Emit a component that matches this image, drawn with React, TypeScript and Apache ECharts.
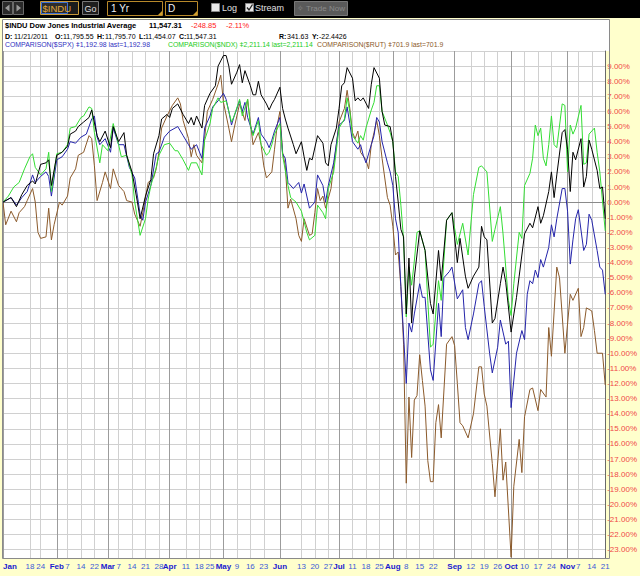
import React, { useEffect, useRef } from 'react';
import * as echarts from 'echarts';

// market holidays in the period (no trading days)
const holidays = ['2011-01-17', '2011-02-21', '2011-04-22', '2011-05-30', '2011-07-04', '2011-09-05'];
const firstDay = '2011-01-03';
const lastDay = '2011-11-21';

// labelled dates on the x axis (month starts get the month name)
const monthStarts = ['2011-01-03', '2011-02-01', '2011-03-01', '2011-04-01', '2011-05-02', '2011-06-01',
    '2011-07-01', '2011-08-01', '2011-09-01', '2011-10-03', '2011-11-01'];
const weekTicks = ['2011-01-18', '2011-01-24', '2011-02-07', '2011-02-14', '2011-02-22', '2011-03-07',
    '2011-03-14', '2011-03-21', '2011-03-28', '2011-04-11', '2011-04-18', '2011-04-25', '2011-05-09',
    '2011-05-16', '2011-05-23', '2011-06-13', '2011-06-20', '2011-06-27', '2011-07-11', '2011-07-18',
    '2011-07-25', '2011-08-08', '2011-08-15', '2011-08-22', '2011-09-12', '2011-09-19', '2011-09-26',
    '2011-10-10', '2011-10-17', '2011-10-24', '2011-11-07', '2011-11-14', '2011-11-21'];
const monthNames = ['Jan', 'Feb', 'Mar', 'Apr', 'May', 'Jun', 'Jul', 'Aug', 'Sep', 'Oct', 'Nov', 'Dec'];

// % change since first day, [trading day index, value]
const induPct = [[0,0],[3,0.3],[5,-0.3],[7,0.5],[9,1.1],[11,1.4],[12,1.2],[14,2.5],[16,2.6],[17,2.8],[18,1.1],[20,3.1],[22,3.3],[24,3.7],[25,4.5],[27,4.7],[28,5.0],[30,5.3],[32,5.6],[33,6.1],[35,4.4],[36,4.0],[38,4.7],[40,3.6],[41,5.0],[43,4.0],[45,4.6],[46,3.1],[48,2.0],[50,0.0],[51,-1.1],[53,0.4],[55,1.5],[56,3.2],[58,4.4],[59,5.5],[61,5.8],[62,5.6],[63,6.2],[65,6.5],[67,5.8],[69,5.2],[70,5.6],[71,5.1],[72,5.7],[74,4.9],[75,6.4],[77,7.2],[79,7.7],[80,9.0],[82,9.7],[83,9.7],[84,9.0],[85,7.8],[87,8.6],[88,9.1],[89,7.9],[90,8.7],[92,7.7],[93,7.1],[94,7.1],[95,8.0],[96,7.1],[98,6.5],[99,6.1],[100,6.5],[101,6.8],[103,7.6],[104,6.2],[105,5.5],[106,4.9],[108,3.8],[109,3.2],[111,4.0],[112,3.0],[113,2.1],[114,2.9],[115,2.8],[117,4.4],[119,3.9],[120,2.6],[121,2.4],[122,3.8],[124,4.9],[125,6.2],[126,7.7],[127,7.9],[128,8.9],[130,8.2],[131,6.7],[132,6.9],[133,6.7],[134,6.9],[136,6.2],[137,7.8],[138,8.9],[140,8.2],[141,6.0],[142,5.1],[144,5.0],[145,4.0],[146,1.7],[147,0.0],[148,-1.8],[149,-2.3],[150,-7.4],[151,-3.7],[152,-8.0],[153,-5.0],[155,-1.9],[157,-3.2],[159,-6.7],[160,-7.4],[162,-3.2],[163,-5.2],[165,-1.2],[167,-0.7],[169,-4.0],[170,-2.4],[172,-4.9],[173,-5.7],[175,-4.9],[177,-4.3],[178,-1.6],[179,-2.3],[180,-2.5],[182,-8.0],[183,-7.7],[185,-5.4],[186,-4.3],[187,-5.3],[189,-8.6],[191,-6.3],[192,-4.9],[194,-2.1],[196,-1.4],[197,-1.7],[199,-0.3],[200,-1.4],[201,-0.9],[203,0.7],[204,2.0],[205,0.3],[206,1.8],[208,4.6],[209,4.8],[210,3.5],[211,0.7],[212,3.3],[213,2.8],[215,4.2],[216,1.0],[217,1.7],[218,4.1],[219,3.5],[221,2.1],[222,0.9],[223,1.0],[224,-1.1]];

const spxPct = [[0,0],[3,0.3],[5,-0.2],[7,0.3],[9,0.7],[11,1.8],[12,1.3],[14,1.7],[16,2.0],[17,1.7],[18,0.4],[20,2.8],[22,3.0],[24,3.5],[25,4.0],[27,3.9],[29,4.3],[31,4.5],[33,5.5],[34,5.7],[35,4.3],[36,3.8],[38,4.2],[40,3.3],[41,4.9],[43,3.8],[45,3.8],[47,2.3],[49,1.6],[51,-0.8],[52,-1.2],[53,0.0],[55,1.1],[57,3.2],[58,3.3],[60,4.3],[62,4.7],[64,4.9],[65,5.0],[67,4.4],[69,3.8],[70,3.5],[72,3.8],[74,2.9],[75,4.9],[77,5.7],[78,6.3],[80,6.7],[82,7.2],[83,6.8],[84,6.0],[85,5.1],[86,5.7],[88,6.7],[89,6.0],[90,6.6],[91,5.6],[93,4.5],[95,5.6],[96,4.5],[98,4.0],[99,3.6],[100,4.1],[101,4.7],[103,5.6],[104,3.2],[105,2.9],[106,1.3],[108,0.9],[110,1.3],[111,0.6],[112,1.2],[114,-0.4],[116,0.0],[117,1.8],[119,1.1],[120,0.0],[121,1.1],[123,2.6],[125,5.1],[127,5.4],[128,6.3],[129,5.2],[130,4.0],[132,3.5],[133,3.8],[134,3.1],[135,2.6],[137,3.8],[138,4.4],[139,5.6],[140,5.3],[141,4.0],[143,2.6],[144,2.0],[145,1.1],[146,-1.1],[147,-2.0],[148,-5.6],[150,-12.0],[151,-8.0],[152,-8.6],[153,-7.4],[155,-5.4],[156,-6.3],[157,-6.3],[159,-11.1],[160,-11.8],[162,-6.7],[163,-8.9],[164,-5.0],[166,-4.6],[167,-4.3],[169,-6.4],[171,-5.8],[172,-8.3],[173,-9.1],[175,-7.4],[177,-5.4],[178,-5.2],[179,-6.9],[181,-10.0],[182,-11.3],[184,-9.6],[185,-7.8],[187,-9.4],[188,-9.2],[189,-13.6],[191,-10.0],[193,-8.5],[194,-9.1],[195,-6.1],[196,-5.2],[197,-5.4],[198,-4.5],[199,-5.0],[200,-3.8],[201,-4.3],[203,-3.0],[204,-1.5],[205,-2.3],[206,-1.1],[208,0.9],[209,0.9],[210,-0.6],[211,-4.1],[212,-2.5],[213,-1.1],[214,-0.5],[216,-3.2],[217,-2.8],[218,-0.8],[219,-1.2],[221,-3.2],[222,-4.3],[223,-4.5],[224,-6.1]];

const ndxPct = [[0,0],[2,0.4],[4,1.0],[6,1.3],[8,2.2],[10,3.0],[11,3.2],[12,2.3],[14,1.8],[16,2.2],[17,3.3],[18,0.7],[20,3.2],[22,3.3],[24,3.8],[25,4.9],[27,5.0],[29,5.6],[30,5.7],[32,6.3],[33,6.2],[34,4.6],[36,2.6],[37,3.8],[39,3.4],[41,5.2],[43,3.8],[44,3.0],[46,3.1],[48,1.8],[49,0.0],[51,-2.2],[53,-1.1],[54,0.2],[55,1.1],[57,2.3],[58,3.1],[60,3.8],[62,3.9],[64,3.4],[65,3.4],[67,2.8],[69,2.1],[70,2.6],[72,2.6],[74,1.8],[75,4.1],[77,5.2],[78,6.2],[80,6.9],[81,6.6],[83,6.7],[84,6.0],[85,5.3],[86,5.7],[88,6.8],[89,5.7],[91,6.8],[92,5.1],[93,4.4],[95,5.4],[96,3.8],[98,3.1],[99,3.3],[100,3.8],[101,4.5],[103,5.2],[104,3.1],[106,1.1],[107,0.3],[109,0.0],[111,-0.6],[112,-1.3],[113,-2.0],[114,-2.5],[116,-2.2],[117,-0.2],[119,-0.7],[120,-1.1],[121,0.9],[123,2.0],[125,4.9],[127,5.5],[128,6.9],[129,6.0],[130,4.4],[132,3.9],[133,4.4],[134,4.1],[135,4.9],[137,6.1],[138,6.6],[139,7.7],[140,7.7],[141,6.0],[143,5.1],[144,4.6],[145,4.0],[146,2.0],[147,1.7],[148,-0.2],[149,-2.5],[150,-7.6],[151,-4.3],[152,-5.5],[153,-3.9],[154,-2.0],[155,-1.9],[157,-3.2],[158,-6.5],[159,-9.6],[160,-9.4],[162,-5.2],[163,-6.5],[165,-1.2],[167,-0.7],[169,-2.8],[171,-1.4],[173,-3.5],[175,0.5],[177,2.3],[178,2.4],[180,2.0],[182,-2.6],[183,-1.8],[185,-0.3],[186,-2.1],[188,-6.5],[189,-7.5],[190,-5.4],[192,-2.0],[193,-2.4],[194,1.1],[196,1.9],[197,2.9],[198,5.1],[199,4.4],[200,4.9],[201,2.9],[202,2.4],[203,3.8],[204,5.7],[205,3.8],[206,3.6],[208,6.5],[209,6.4],[210,2.0],[211,5.1],[212,4.5],[213,4.9],[215,6.4],[216,2.5],[217,2.6],[218,4.5],[220,4.9],[221,3.3],[222,2.0],[224,-1.9]];

const rutPct = [[0,0],[1,-1.5],[3,-0.6],[5,-1.3],[6,-0.7],[8,-0.3],[9,0.1],[11,0.9],[12,0.0],[13,-2.0],[14,-2.4],[16,-2.3],[17,-0.4],[18,-2.5],[19,-1.5],[21,0.0],[22,-0.2],[24,0.4],[25,1.6],[27,2.2],[28,3.1],[30,3.3],[32,4.4],[33,4.2],[34,2.4],[35,0.1],[37,1.3],[38,2.0],[40,0.9],[41,2.2],[43,1.1],[45,0.7],[46,0.1],[48,0.0],[49,-0.8],[51,-1.6],[52,-0.7],[54,1.3],[56,1.6],[57,2.2],[58,3.3],[59,4.9],[61,5.7],[63,6.4],[65,6.9],[66,6.5],[67,5.4],[69,4.2],[70,3.0],[71,3.8],[72,3.1],[74,2.6],[75,4.2],[76,6.0],[78,6.8],[80,7.8],[81,8.4],[82,6.6],[84,4.9],[85,4.0],[86,4.9],[88,6.5],[90,5.4],[91,6.8],[92,5.3],[93,3.8],[95,4.6],[96,3.8],[97,2.4],[98,1.6],[100,2.0],[101,3.5],[102,5.1],[103,6.0],[104,3.3],[105,2.4],[106,-0.4],[107,0.2],[109,-1.1],[110,-2.2],[111,-2.6],[112,-1.1],[114,-2.2],[115,-2.1],[116,-0.7],[117,0.9],[118,0.1],[119,0.4],[120,-0.4],[122,0.9],[123,2.4],[124,3.8],[125,5.3],[127,6.2],[128,7.4],[129,6.2],[130,4.6],[131,4.2],[132,4.7],[133,3.3],[135,2.8],[136,2.2],[137,3.8],[138,4.6],[139,5.4],[140,4.4],[141,2.9],[143,0.3],[144,-0.2],[145,-1.6],[146,-3.5],[147,-3.3],[148,-5.6],[149,-9.4],[150,-18.6],[151,-12.9],[152,-16.9],[153,-13.1],[154,-12.8],[155,-10.1],[156,-11.8],[157,-13.5],[158,-17.1],[159,-18.5],[160,-18.5],[161,-14.6],[162,-13.4],[163,-15.6],[165,-9.4],[167,-8.9],[168,-9.5],[169,-12.0],[170,-14.6],[171,-14.8],[173,-15.6],[175,-14.0],[177,-10.9],[178,-10.9],[179,-12.7],[180,-13.5],[182,-17.3],[183,-19.5],[185,-15.0],[186,-18.4],[187,-17.2],[189,-23.5],[190,-18.8],[192,-15.7],[193,-17.9],[194,-14.2],[196,-12.4],[197,-12.3],[199,-13.8],[200,-12.4],[202,-12.9],[203,-8.3],[204,-10.2],[206,-4.3],[207,-5.0],[209,-10.0],[211,-6.1],[212,-6.5],[214,-5.7],[215,-8.9],[216,-8.3],[217,-7.0],[219,-7.2],[220,-8.5],[221,-10.0],[223,-10.0],[224,-12.1]];

function buildTradingDays(start: string, end: string): string[] {
    const out: string[] = [];
    const d = new Date(start + 'T00:00:00Z');
    const stop = new Date(end + 'T00:00:00Z');
    while (d <= stop) {
        const key = d.toISOString().slice(0, 10);
        const wd = d.getUTCDay();
        if (wd !== 0 && wd !== 6 && holidays.indexOf(key) < 0) out.push(key);
        d.setUTCDate(d.getUTCDate() + 1);
    }
    return out;
}

const FONT = '"Liberation Sans", Arial, sans-serif';

function txt(x: number, y: number, text: string, fill: string, size: number, bold = false) {
    return {
        type: 'text', x, y,
        style: { text, fill, fontSize: size, fontFamily: FONT, fontWeight: bold ? 'bold' : 'normal', verticalAlign: 'middle' }
    };
}

function rect(x: number, y: number, w: number, h: number, fill: string, stroke?: string) {
    return { type: 'rect', shape: { x, y, width: w, height: h }, style: { fill, stroke: stroke || 'none', lineWidth: 1 } };
}

const App: React.FC = () => {
    const chartRef = useRef<HTMLDivElement>(null);

    useEffect(() => {
        document.body.style.margin = '0';
        if (!chartRef.current) return;
        const chart = echarts.init(chartRef.current, undefined, { renderer: 'svg' });

        const days = buildTradingDays(firstDay, lastDay);
        const allTicks = new Set([...monthStarts, ...weekTicks]);
        const monthSet = new Set(monthStarts);

        const toolbar = [
            rect(0, 0, 640, 18, '#000000'),
            rect(2.5, 1.5, 10, 13, '#2a2a2a', '#6a6a6a'),
            { type: 'polygon', shape: { points: [[9.5, 4.5], [9.5, 11.5], [5, 8]] }, style: { fill: '#9a9a9a' } },
            rect(13.5, 1.5, 10, 13, '#2a2a2a', '#6a6a6a'),
            { type: 'polygon', shape: { points: [[16.5, 4.5], [16.5, 11.5], [21, 8]] }, style: { fill: '#9a9a9a' } },
            rect(40.5, 1.5, 38, 13, '#1c1c1c', '#c89a3a'),
            rect(41.5, 2.5, 26, 11, '#2c2c2c', '#3c6fd6'),
            txt(42.5, 8.5, '$INDU', '#e0a83c', 9.5),
            rect(82.5, 1.5, 16, 13, '#1e1e1e', '#777777'),
            txt(84.5, 8.5, 'Go', '#dddddd', 9),
            rect(107.5, 1.5, 55, 14, '#000000', '#b8892a'),
            txt(111, 8.5, '1 Yr', '#f0f0f0', 10),
            { type: 'polygon', shape: { points: [[162, 15], [162, 11], [158, 15]] }, style: { fill: '#d0a030' } },
            rect(165.5, 1.5, 32, 14, '#000000', '#b8892a'),
            txt(168, 8.5, 'D', '#f0f0f0', 10),
            { type: 'polygon', shape: { points: [[197, 15], [197, 11], [193, 15]] }, style: { fill: '#d0a030' } },
            rect(211.5, 3.5, 8, 8, '#e8e8e8', '#8a8a8a'),
            txt(222, 8, 'Log', '#e0e0e0', 9),
            rect(245.5, 3.5, 8, 8, '#e8e8e8', '#8a8a8a'),
            { type: 'polyline', shape: { points: [[247, 7.5], [249, 10], [252.5, 4.5]] }, style: { stroke: '#222', lineWidth: 1.3, fill: 'none' } },
            txt(255, 8, 'Stream', '#e0e0e0', 9),
            rect(294.5, 1.5, 53, 14, '#5a5a5a', '#777777'),
            txt(297, 8.5, '\u2727 Trade Now', '#8a8a8a', 8)
        ];

        const header = [
            rect(2, 19, 607, 32, '#ffffff'),
            txt(5, 25, '$INDU Dow Jones Industrial Average', '#000000', 7.5, true),
            txt(149, 25, '11,547.31', '#000000', 7.5, true),
            txt(191, 25, '-248.85', '#ff1a1a', 7.5),
            txt(226, 25, '-2.11%', '#ff1a1a', 7.5),
            txt(5, 36, 'D:', '#000000', 7, true),
            txt(14, 36, '11/21/2011', '#000000', 7),
            txt(55, 36, 'O:', '#000000', 7, true),
            txt(63, 36, '11,795.55', '#000000', 7),
            txt(97, 36, 'H:', '#000000', 7, true),
            txt(105, 36, '11,795.70', '#000000', 7),
            txt(139, 36, 'L:', '#000000', 7, true),
            txt(145, 36, '11,454.07', '#000000', 7),
            txt(179, 36, 'C:', '#000000', 7, true),
            txt(186, 36, '11,547.31', '#000000', 7),
            txt(279, 36, 'R:', '#000000', 7, true),
            txt(287, 36, '341.63', '#000000', 7),
            txt(312, 36, 'Y:', '#000000', 7, true),
            txt(319, 36, '-22.4426', '#000000', 7),
            txt(5, 44, 'COMPARISON($SPX) \u01C21,192.98 last=1,192.98', '#3030c0', 6.9),
            txt(168, 44, 'COMPARISON($NDX) \u01C22,211.14 last=2,211.14', '#22cc22', 6.9),
            txt(317, 44, 'COMPARISON($RUT) \u01C2701.9 last=701.9', '#8b5a2b', 6.9),
            { type: 'rect', z: 50, shape: { x: 2.5, y: 19.5, width: 607, height: 539 }, style: { fill: 'none', stroke: '#8a8a8a', lineWidth: 1 } }
        ];

        const lineSeries = (name: string, data: number[][], color: string) => ({
            name, type: 'line', data, xAxisIndex: 0, yAxisIndex: 0,
            showSymbol: false, symbol: 'none', clip: true,
            lineStyle: { color, width: 1 }, itemStyle: { color }
        });

        const option = {
            animation: false,
            backgroundColor: '#ffffcc',
            grid: { left: 3, right: 31, top: 51, bottom: 18, show: true, backgroundColor: '#ffffff', borderWidth: 0 },
            xAxis: [
                {
                    type: 'category', data: days, boundaryGap: false, position: 'bottom',
                    axisLine: { show: true, lineStyle: { color: '#8a8a8a' } },
                    axisTick: { show: false },
                    axisLabel: {
                        interval: (i: number, v: string) => allTicks.has(v),
                        showMinLabel: true, showMaxLabel: true,
                        alignMinLabel: 'left',
                        margin: 4, fontFamily: FONT, fontSize: 8,
                        formatter: (v: string) => monthSet.has(v)
                            ? '{m|' + monthNames[parseInt(v.slice(5, 7), 10) - 1] + '}'
                            : '{d|' + parseInt(v.slice(8, 10), 10) + '}',
                        rich: {
                            m: { fontWeight: 'bold', color: '#1a1ad0', fontSize: 8, fontFamily: FONT },
                            d: { color: '#3a5ad8', fontSize: 8, fontFamily: FONT }
                        }
                    },
                    splitLine: { show: true, interval: (i: number, v: string) => allTicks.has(v), lineStyle: { color: '#d0d0d0', width: 1 } }
                },
                {
                    type: 'category', data: days, boundaryGap: false, position: 'top',
                    axisLine: { show: false }, axisTick: { show: false }, axisLabel: { show: false },
                    splitLine: { show: true, interval: (i: number, v: string) => monthSet.has(v), lineStyle: { color: '#9c9c9c', width: 1 } }
                }
            ],
            yAxis: {
                type: 'value', position: 'right', min: -23.55, max: 10,
                splitNumber: 34, minInterval: 1, maxInterval: 1,
                axisLine: { show: true, lineStyle: { color: '#6a6a6a' } },
                axisTick: { show: false },
                axisLabel: {
                    showMinLabel: false, showMaxLabel: false, margin: 2,
                    color: '#f04848', fontSize: 8, fontFamily: FONT,
                    formatter: (v: number) => v.toFixed(2) + '%'
                },
                splitLine: { show: true, lineStyle: { color: '#d0d0d0', width: 1 } }
            },
            graphic: { elements: [...toolbar, ...header] },
            series: [
                lineSeries('$RUT', rutPct, '#8b5a2b'),
                lineSeries('$SPX', spxPct, '#2424aa'),
                lineSeries('$NDX', ndxPct, '#33dd33'),
                lineSeries('$INDU', induPct, '#000000')
            ]
        };
        chart.setOption(option as any);

        return () => {
            chart.dispose();
        };
    }, []);

    return <div ref={chartRef} style={{ width: '640px', height: '576px' }}></div>;
};

export default App;
